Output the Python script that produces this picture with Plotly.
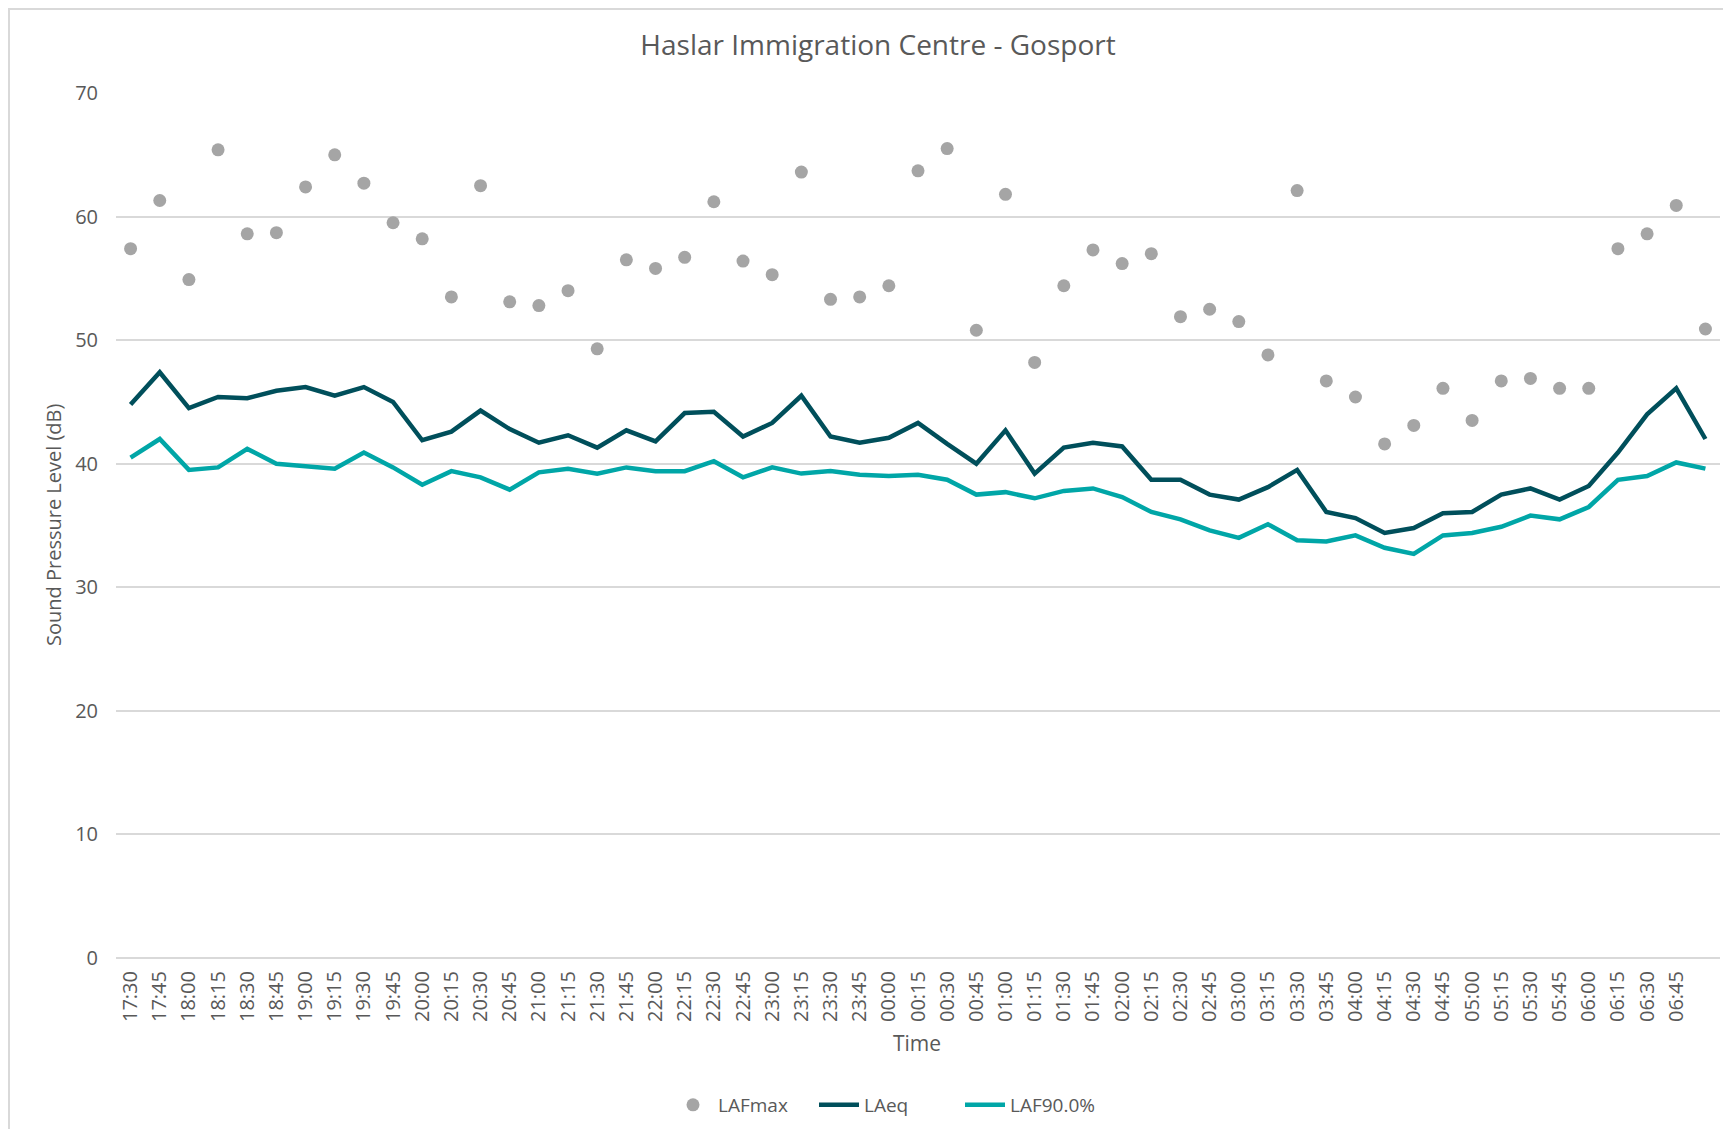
import plotly.graph_objects as go

times = ["17:30", "17:45", "18:00", "18:15", "18:30", "18:45", "19:00", "19:15", "19:30", "19:45",
         "20:00", "20:15", "20:30", "20:45", "21:00", "21:15", "21:30", "21:45", "22:00", "22:15",
         "22:30", "22:45", "23:00", "23:15", "23:30", "23:45", "00:00", "00:15", "00:30", "00:45",
         "01:00", "01:15", "01:30", "01:45", "02:00", "02:15", "02:30", "02:45", "03:00", "03:15",
         "03:30", "03:45", "04:00", "04:15", "04:30", "04:45", "05:00", "05:15", "05:30", "05:45",
         "06:00", "06:15", "06:30", "06:45", "07:00"]

# labels shown on the axis (the final 07:00 category carries no label)
tick_labels = ["17:30", "17:45", "18:00", "18:15", "18:30", "18:45", "19:00", "19:15", "19:30", "19:45",
               "20:00", "20:15", "20:30", "20:45", "21:00", "21:15", "21:30", "21:45", "22:00", "22:15",
               "22:30", "22:45", "23:00", "23:15", "23:30", "23:45", "00:00", "00:15", "00:30", "00:45",
               "01:00", "01:15", "01:30", "01:45", "02:00", "02:15", "02:30", "02:45", "03:00", "03:15",
               "03:30", "03:45", "04:00", "04:15", "04:30", "04:45", "05:00", "05:15", "05:30", "05:45",
               "06:00", "06:15", "06:30", "06:45"]

lafmax = [57.4, 61.3, 54.9, 65.4, 58.6, 58.7, 62.4, 65.0, 62.7, 59.5,
          58.2, 53.5, 62.5, 53.1, 52.8, 54.0, 49.3, 56.5, 55.8, 56.7,
          61.2, 56.4, 55.3, 63.6, 53.3, 53.5, 54.4, 63.7, 65.5, 50.8,
          61.8, 48.2, 54.4, 57.3, 56.2, 57.0, 51.9, 52.5, 51.5, 48.8,
          62.1, 46.7, 45.4, 41.6, 43.1, 46.1, 43.5, 46.7, 46.9, 46.1,
          46.1, 57.4, 58.6, 60.9, 50.9]

laeq = [44.8, 47.4, 44.5, 45.4, 45.3, 45.9, 46.2, 45.5, 46.2, 45.0,
        41.9, 42.6, 44.3, 42.8, 41.7, 42.3, 41.3, 42.7, 41.8, 44.1,
        44.2, 42.2, 43.3, 45.5, 42.2, 41.7, 42.1, 43.3, 41.6, 40.0,
        42.7, 39.2, 41.3, 41.7, 41.4, 38.7, 38.7, 37.5, 37.1, 38.1,
        39.5, 36.1, 35.6, 34.4, 34.8, 36.0, 36.1, 37.5, 38.0, 37.1,
        38.2, 40.9, 44.0, 46.1, 42.0]

laf90 = [40.5, 42.0, 39.5, 39.7, 41.2, 40.0, 39.8, 39.6, 40.9, 39.7,
         38.3, 39.4, 38.9, 37.9, 39.3, 39.6, 39.2, 39.7, 39.4, 39.4,
         40.2, 38.9, 39.7, 39.2, 39.4, 39.1, 39.0, 39.1, 38.7, 37.5,
         37.7, 37.2, 37.8, 38.0, 37.3, 36.1, 35.5, 34.6, 34.0, 35.1,
         33.8, 33.7, 34.2, 33.2, 32.7, 34.2, 34.4, 34.9, 35.8, 35.5,
         36.5, 38.7, 39.0, 40.1, 39.6]

y_ticks = [0, 10, 20, 30, 40, 50, 60, 70]

FONT = "Open Sans"
GREY_TXT = "#595959"

# figure is drawn inside the page's 8px body margin
W, H = 1715, 1121
L, R, T, B = 108, 3, 85, 171
PW, PH = W - L - R, H - T - B

fig = go.Figure()
fig.add_trace(go.Scatter(x=times, y=lafmax, mode="markers", name="LAFmax",
                         marker=dict(color="#A5A5A5", size=13)))
fig.add_trace(go.Scatter(x=times, y=laeq, mode="lines", name="LAeq",
                         line=dict(color="#004F5B", width=4.5)))
fig.add_trace(go.Scatter(x=times, y=laf90, mode="lines", name="LAF90.0%",
                         line=dict(color="#00A6A7", width=4.5)))

fig.update_layout(
    width=W, height=H,
    paper_bgcolor="white", plot_bgcolor="white",
    margin=dict(l=L, r=R, t=T, b=B),
    font=dict(family=FONT, color=GREY_TXT),
    title=dict(text="Haslar Immigration Centre - Gosport", x=870 / W, xanchor="center",
               y=1 - 37 / H, yanchor="middle",
               font=dict(size=28, color=GREY_TXT, family=FONT)),
    showlegend=True,
    legend=dict(orientation="h", x=(660 - L) / PW, xanchor="left",
                y=(PH - (1105 - 8 - T)) / PH, yanchor="middle",
                font=dict(size=19, color=GREY_TXT), itemwidth=40,
                entrywidth=91, entrywidthmode="pixels"),
    xaxis=dict(type="category", range=[-0.5, len(times) - 0.5],
               tickmode="array", tickvals=tick_labels, ticktext=tick_labels,
               tickangle=-90, tickfont=dict(size=20, color=GREY_TXT),
               showgrid=False, zeroline=False, showline=False, ticks="",
               ticklabelstandoff=8),
    yaxis=dict(range=[0, 70], tickmode="array", tickvals=y_ticks,
               tickfont=dict(size=20, color=GREY_TXT),
               showgrid=True, gridcolor="#D9D9D9", gridwidth=2,
               zeroline=True, zerolinecolor="#D9D9D9", zerolinewidth=2,
               showline=False, ticks="", ticklabelstandoff=17),
    annotations=[
        dict(text="Time", xref="paper", yref="paper", x=(917 - 8 - L) / PW,
             y=(PH - (1043 - 8 - T)) / PH,
             xanchor="center", yanchor="middle", showarrow=False,
             font=dict(size=21, color=GREY_TXT, family=FONT)),
        dict(text="Sound Pressure Level (dB)", xref="paper", yref="paper",
             x=(53 - 8 - L) / PW, y=(PH - (525 - 8 - T)) / PH, xanchor="center", yanchor="middle",
             textangle=-90, showarrow=False,
             font=dict(size=20, color=GREY_TXT, family=FONT)),
    ],
    shapes=[
        dict(type="rect", xref="paper", yref="paper",
             x0=(1 - L) / PW, x1=(W + 20 - L) / PW,
             y0=(PH - (H + 20 - T)) / PH, y1=(PH - (1 - T)) / PH,
             line=dict(color="#D9D9D9", width=2), fillcolor="rgba(0,0,0,0)", layer="below"),
    ],
)

fig.write_html("out.html")
